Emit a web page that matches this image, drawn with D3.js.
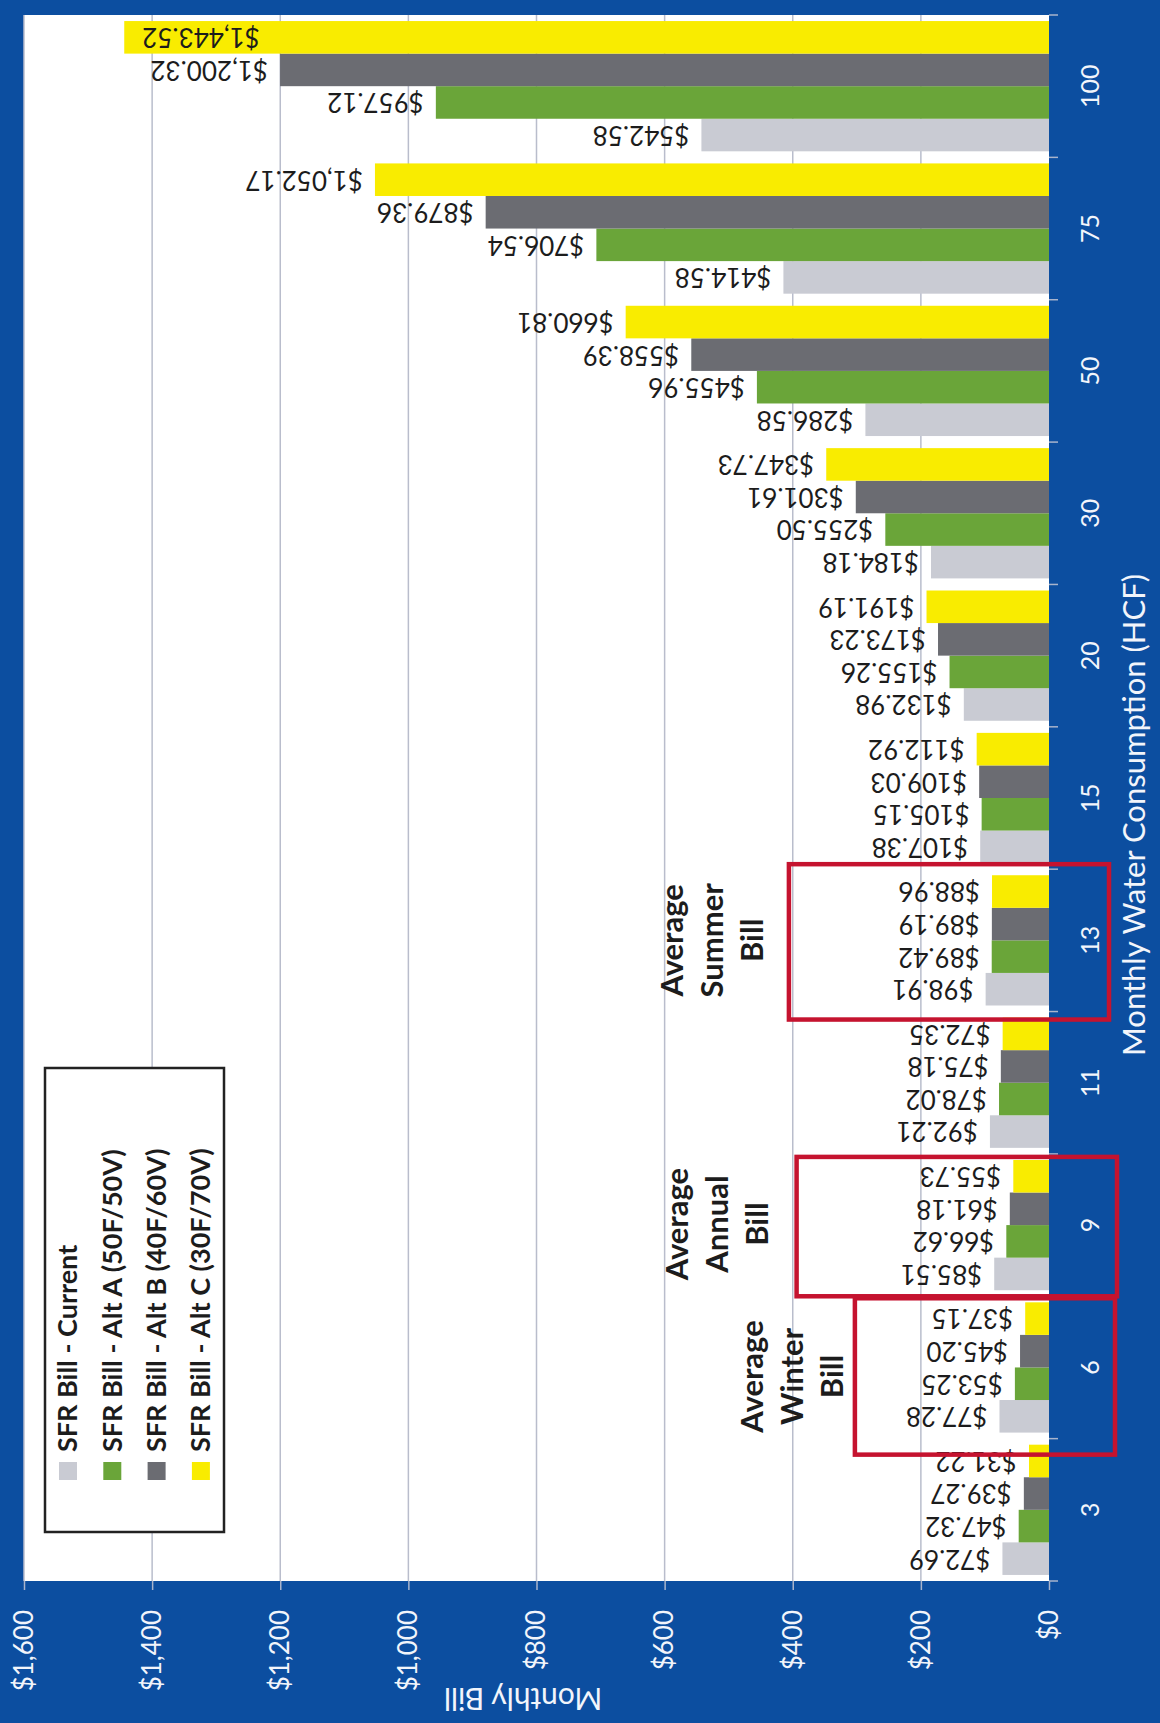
<!DOCTYPE html>
<html>
<head>
<meta charset="utf-8">
<script src="https://cdn.jsdelivr.net/npm/d3@7"></script>
<style>
html, body { margin: 0; padding: 0; background: #0c4ea0; }
svg { display: block; }
text { font-family: Lato, "Open Sans", sans-serif; }
</style>
</head>
<body>
<script>
// monthly consumption (HCF)
const categories = ["3", "6", "9", "11", "13", "15", "20", "30", "50", "75", "100"];
const seriesNames = ["SFR Bill - Current", "SFR Bill - Alt A (50F/50V)", "SFR Bill - Alt B (40F/60V)", "SFR Bill - Alt C (30F/70V)"];
const current = [72.69, 77.28, 85.51, 92.21, 98.91, 107.38, 132.98, 184.18, 286.58, 414.58, 542.58];
const altA = [47.32, 53.25, 66.62, 78.02, 89.42, 105.15, 155.26, 255.50, 455.96, 706.54, 957.12];
const altB = [39.27, 45.20, 61.18, 75.18, 89.19, 109.03, 173.23, 301.61, 558.39, 879.36, 1200.32];
const altC = [31.22, 37.15, 55.73, 72.35, 88.96, 112.92, 191.19, 347.73, 660.81, 1052.17, 1443.52];
const billTicks = [0, 200, 400, 600, 800, 1000, 1200, 1400, 1600];

// highlighted groups
const noteCats = ["6", "9", "13"];
const noteLines = [["Average", "Winter", "Bill"], ["Average", "Annual", "Bill"], ["Average", "Summer", "Bill"]];

const colors = ["#c9cbd3", "#6aa539", "#6b6c72", "#f9ec00"];
const series = [current, altA, altB, altC];

// the chart is drawn upright and then turned a quarter turn, like the scanned page
const W = 1723, H = 1160;
const svg = d3.select("body").append("svg")
    .attr("width", 1160)
    .attr("height", 1723);
svg.append("rect").attr("width", 1160).attr("height", 1723).attr("fill", "#0c4ea0");

const g = svg.append("g").attr("transform", `translate(0,${W}) rotate(-90)`);

const x0 = d3.scaleBand().domain(categories).range([142, 1708])
    .paddingInner(0.085).paddingOuter(0.0425);
const x1 = d3.scaleBand().domain(d3.range(series.length)).range([0, x0.bandwidth()]);
const y = d3.scaleLinear().domain([0, 1600]).range([1049, 24]);

// plot area
g.append("rect")
    .attr("x", 142).attr("y", y(1600))
    .attr("width", 1708 - 142).attr("height", y(0) - y(1600))
    .attr("fill", "#fff");

g.append("g").selectAll("line")
  .data(billTicks.slice(1))
  .join("line")
    .attr("x1", 142).attr("x2", 1708)
    .attr("y1", d => y(d)).attr("y2", d => y(d))
    .attr("stroke", "#b9bdcc")
    .attr("stroke-width", 1.5);

// value axis
const yAxis = g.append("g")
    .attr("transform", "translate(142,0)")
    .call(d3.axisLeft(y).tickValues(billTicks).tickSize(9).tickPadding(20)
      .tickFormat(d => "$" + d3.format(",")(d)));
yAxis.select(".domain").remove();
yAxis.selectAll(".tick line").attr("stroke", "#a9b4cc").attr("stroke-width", 1.5);
yAxis.selectAll(".tick text")
    .attr("fill", "#f2f5fb")
    .style("font-size", "26px");

// category axis
const xAxis = g.append("g")
    .attr("transform", "translate(0,1049)")
    .call(d3.axisBottom(x0).tickSize(0));
xAxis.select(".domain").remove();
xAxis.selectAll(".tick text")
    .attr("y", 41).attr("dy", "0.35em")
    .attr("fill", "#f2f5fb")
    .style("font-size", "25px");

const edges = categories.map(c => x0(c) - x0.step() * x0.paddingInner() / 2)
    .concat([x0(categories[categories.length - 1]) + x0.bandwidth() + x0.step() * x0.paddingInner() / 2]);
g.append("g").selectAll("line")
  .data(edges)
  .join("line")
    .attr("x1", d => d).attr("x2", d => d)
    .attr("y1", 1049).attr("y2", 1058)
    .attr("stroke", "#a9b4cc")
    .attr("stroke-width", 1.5);

// axis titles
g.append("text")
    .attr("transform", "translate(25,523) rotate(-90)")
    .attr("text-anchor", "middle")
    .attr("dy", "0.35em")
    .attr("fill", "#f2f5fb")
    .style("font-size", "30px")
    .text("Monthly Bill");

g.append("text")
    .attr("x", 908).attr("y", 1134)
    .attr("text-anchor", "middle")
    .attr("dy", "0.35em")
    .attr("fill", "#f2f5fb")
    .style("font-size", "31px")
    .text("Monthly Water Consumption (HCF)");

// bars
const groups = g.append("g").selectAll("g")
  .data(categories)
  .join("g")
    .attr("transform", c => `translate(${x0(c)},0)`);

const cells = groups.selectAll("g")
  .data((c, i) => series.map((s, k) => ({k: k, v: s[i]})))
  .join("g");

cells.append("rect")
    .attr("x", d => x1(d.k))
    .attr("y", d => y(d.v))
    .attr("width", x1.bandwidth())
    .attr("height", d => y(0) - y(d.v))
    .attr("fill", d => colors[d.k]);

const fmt = d3.format(",.2f");
cells.append("text")
    .attr("dy", "0.35em")
    .attr("fill", "#1c1c1c")
    .style("font-size", "26px")
    .text(d => "$" + fmt(d.v))
    .each(function(d) {
      const cx = x1(d.k) + x1.bandwidth() / 2;
      const len = this.getComputedTextLength();
      const top = y(d.v);
      const t = d3.select(this);
      if (top - 12 - len < 0) {
        // no room above the bar: put it inside the end
        t.attr("text-anchor", "end").attr("transform", `translate(${cx},${top + 18}) rotate(-90)`);
      } else {
        t.attr("text-anchor", "start").attr("transform", `translate(${cx},${top - 12}) rotate(-90)`);
      }
    });

// legend
const legend = g.append("g").attr("transform", "translate(191,45)");
legend.append("rect")
    .attr("width", 464).attr("height", 179)
    .attr("fill", "#fff")
    .attr("stroke", "#222")
    .attr("stroke-width", 2.5);
const rows = legend.selectAll("g.row")
  .data(seriesNames)
  .join("g")
    .attr("class", "row")
    .attr("transform", (d, i) => `translate(0,${23 + i * 44.3})`);
rows.append("rect")
    .attr("x", 52).attr("y", -9)
    .attr("width", 18).attr("height", 18)
    .attr("fill", (d, i) => colors[i]);
rows.append("text")
    .attr("x", 80)
    .attr("dy", "0.35em")
    .attr("fill", "#1c1c1c")
    .style("font-size", "27px")
    .style("font-weight", "bold")
    .text(d => d);

// notes: box edge and text in dollars, box padding in pixels
const noteBoxEdge = [303, 394, 406];
const noteTextAt = [339, 456, 464];
const notePadLo = [16, 0, 8];
const notePadHi = [-2, -3, 5];
const noteBoxOut = [66, 68, 60];
const noteShift = [-9, 1, 0];

noteCats.forEach((c, i) => {
  const lo = x0(c) - x0.step() * x0.paddingInner() / 2;
  const hi = lo + x0.step();
  g.append("rect")
      .attr("x", lo - notePadLo[i])
      .attr("y", y(noteBoxEdge[i]))
      .attr("width", hi + notePadHi[i] - (lo - notePadLo[i]))
      .attr("height", y(0) + noteBoxOut[i] - y(noteBoxEdge[i]))
      .attr("fill", "none")
      .attr("stroke", "#c5132f")
      .attr("stroke-width", 4.5);
  g.append("g").selectAll("text")
    .data(noteLines[i])
    .join("text")
      .attr("x", x0(c) + x0.bandwidth() / 2 + noteShift[i])
      .attr("y", (d, j) => y(noteTextAt[i]) - (noteLines[i].length - 1 - j) * 40)
      .attr("dy", "0.35em")
      .attr("text-anchor", "middle")
      .attr("fill", "#1c1c1c")
      .style("font-size", "31px")
      .style("font-weight", "bold")
      .text(d => d);
});
</script>
</body>
</html>
